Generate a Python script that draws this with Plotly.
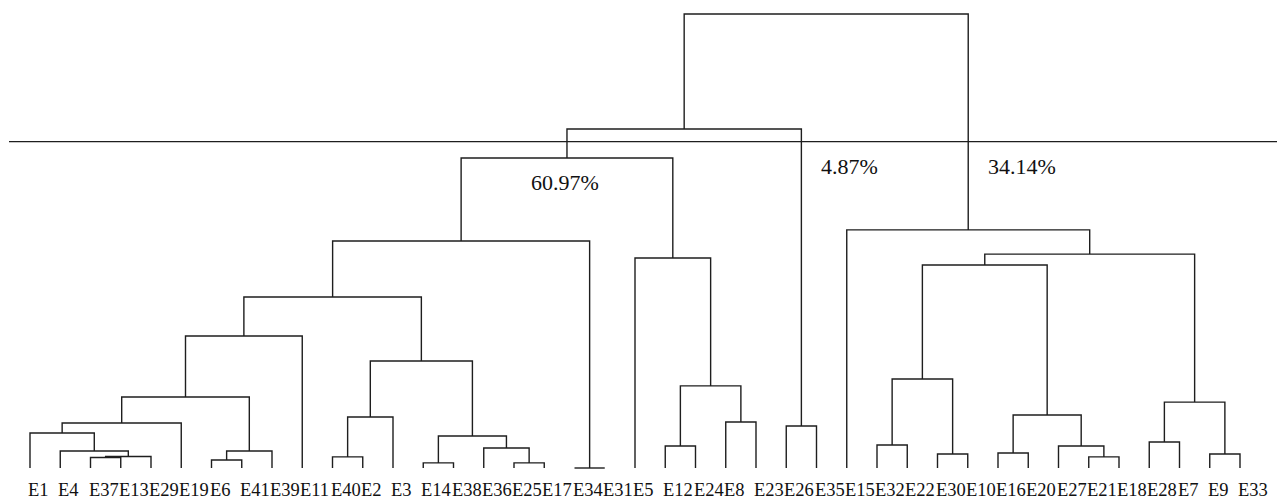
import math
import plotly.graph_objects as go

# Leaf order along the bottom of the dendrogram
leaf_order = [
    "E1", "E4", "E37", "E13", "E29", "E19", "E6", "E41", "E39", "E11",
    "E40", "E2", "E3", "E14", "E38", "E36", "E25", "E17", "E34", "E31",
    "E5", "E12", "E24", "E8", "E23", "E26", "E35", "E15", "E32", "E22",
    "E30", "E10", "E16", "E20", "E27", "E21", "E18", "E28", "E7", "E9", "E33",
]

# Agglomeration steps: a child is a leaf name or the index of an earlier step
merge_left = [
    "E37", 0, "E4", "E1", 3, "E6", 5, 4, 7, "E40",
    9, "E14", "E25", "E36", 11, 10, 8, "E34", 16, "E12",
    "E8", 19, "E5", 18, "E26", 23, "E32", "E30", 26, "E16",
    "E21", "E27", 29, 28, "E28", "E9", 34, 33, "E15", 25,
]
merge_right = [
    "E13", "E29", 1, 2, "E19", "E41", "E39", 6, "E11", "E2",
    "E3", "E38", "E17", 12, 13, 14, 15, "E31", 17, "E24",
    "E23", 20, 21, 22, "E35", 24, "E22", "E10", 27, "E20",
    "E18", 30, 31, 32, "E7", "E33", 35, 36, 37, 38,
]
# Rescaled distance at which each step joins (0-25)
merge_height = [
    0.58, 0.63, 0.94, 1.93, 2.48, 0.44, 0.94, 3.91, 7.27, 0.61,
    2.81, 0.28, 0.28, 1.10, 1.76, 5.89, 9.42, 0.00, 12.50, 1.21,
    2.53, 4.52, 11.56, 17.07, 2.31, 18.67, 1.27, 0.77, 4.90, 0.83,
    0.61, 1.21, 2.92, 11.18, 1.43, 0.77, 3.63, 11.78, 13.11, 25.00,
]

# Distance at which the tree is cut into groups
cut_height = 17.97

leaf_index = {name: i for i, name in enumerate(leaf_order)}
node_pos, node_size = [], []


def child_info(c):
    if isinstance(c, str):
        return leaf_index[c], 0.0, 1
    return node_pos[c], merge_height[c], node_size[c]


xs, ys = [], []
for left, right, h in zip(merge_left, merge_right, merge_height):
    xl, hl, nl = child_info(left)
    xr, hr, nr = child_info(right)
    xs += [xl, xl, xr, xr, None]
    ys += [hl, h, h, hr, None]
    node_pos.append((xl + xr) / 2)
    node_size.append(nl + nr)

# Groups formed by the cut: steps below the cut whose parent is above it
parent_of = {}
for k, (l, r) in enumerate(zip(merge_left, merge_right)):
    for c in (l, r):
        if not isinstance(c, str):
            parent_of[c] = k
groups = [k for k, h in enumerate(merge_height)
          if h < cut_height and merge_height[parent_of.get(k, k)] > cut_height]

n_leaves = len(leaf_order)
line_color = "#1e1e1e"
serif = "Liberation Serif, Times New Roman, serif"

fig = go.Figure()
fig.add_trace(go.Scatter(
    x=xs, y=ys, mode="lines",
    line=dict(color=line_color, width=1.4),
    hoverinfo="skip", showlegend=False,
))

annotations = []
for i, name in enumerate(leaf_order):
    annotations.append(dict(
        x=i, y=-1.40, xref="x", yref="y", text=name, showarrow=False,
        xanchor="left", yanchor="middle", xshift=-3, yshift=3,
        borderpad=0,
        font=dict(family=serif, size=18.5, color="#111111"),
    ))

# Share of leaves in each group, truncated to two decimals
for k in groups:
    share = math.floor(node_size[k] / n_leaves * 10000) / 100
    text = f"{share:.2f}%"
    if node_size[k] == max(node_size[g] for g in groups):
        placement = dict(xanchor="center", xshift=-2, yshift=-41)
    else:
        placement = dict(xanchor="left", xshift=18, yshift=-25)
    annotations.append(dict(
        x=node_pos[k], y=cut_height, xref="x", yref="y", text=text,
        showarrow=False, yanchor="middle",
        font=dict(family=serif, size=22, color="#111111"), **placement,
    ))

fig.update_layout(
    width=1277, height=502,
    margin=dict(l=0, r=0, t=0, b=0),
    paper_bgcolor="white", plot_bgcolor="white",
    xaxis=dict(visible=False, range=[-30 / 30.25, (1277 - 30) / 30.25]),
    yaxis=dict(visible=False, range=[-34 * 25 / 454, 468 * 25 / 454]),
    annotations=annotations,
    shapes=[dict(
        type="line", xref="paper", yref="y",
        x0=9 / 1277, x1=1, y0=cut_height, y1=cut_height,
        line=dict(color=line_color, width=1.4),
    )],
)

fig.write_html("out.html")
